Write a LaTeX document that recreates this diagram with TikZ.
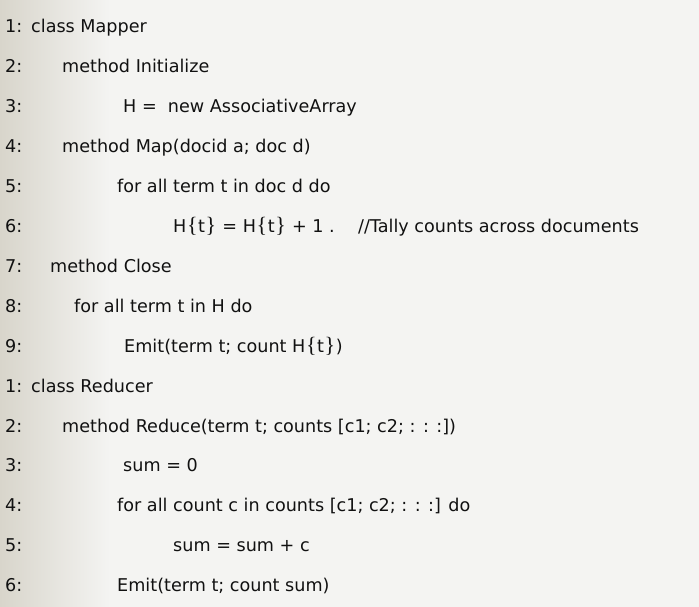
\documentclass[tikz,border=0pt]{standalone}
\usepackage{fontspec}
\setmainfont{DejaVu Sans}
\newfontfamily\bracefont{Liberation Serif}
\newcommand\mylb{{\kern0.6pt\bracefont\fontsize{22}{22}\selectfont\{\kern0.6pt}}
\newcommand\myrb{{\kern0.6pt\bracefont\fontsize{22}{22}\selectfont\}\kern0.6pt}}
\definecolor{bgleft}{HTML}{D8D5CB}
\definecolor{bgmain}{HTML}{F4F4F2}
\definecolor{codetext}{HTML}{111111}
\begin{document}
\begin{tikzpicture}[x=1pt,y=-1pt,
  codeline/.style={anchor=base west,inner sep=0pt,text=codetext,font=\fontsize{17.6}{20}\selectfont}]
\useasboundingbox (0,0) rectangle (699,607);
\fill[bgmain] (0,0) rectangle (699,607);
\shade[left color=bgleft,right color=bgmain] (0,0) rectangle (110,607);
% line numbers
\foreach \n/\lab in {1/1,2/2,3/3,4/4,5/5,6/6,7/7,8/8,9/9,10/1,11/2,12/3,13/4,14/5,15/6}{
  \node[codeline] (num\n) at (5,{33+39.9*(\n-1)}) {\lab:};
}
\node[codeline] (l1) at (31,33) {class Mapper};
\node[codeline] (l2) at (62,72.9) {method Initialize};
\node[codeline] (l3) at (123,112.8) {H = \ new AssociativeArray};
\node[codeline] (l4) at (62,152.7) {method Map(docid a; doc d)};
\node[codeline] (l5) at (117,192.6) {for all term t in doc d do};
\node[codeline] (l6) at (173,232.5) {H\mylb t\myrb{} = H\mylb t\myrb{} + 1 .};
\node[codeline] (l6c) at (358,232.5) {//Tally counts across documents};
\node[codeline] (l7) at (50,272.4) {method Close};
\node[codeline] (l8) at (74,312.3) {for all term t in H do};
\node[codeline] (l9) at (124,352.2) {Emit(term t; count H\mylb t\myrb)};
\node[codeline] (l10) at (31,392.1) {class Reducer};
\node[codeline] (l11) at (62,432) {method Reduce(term t; counts [c1; c2; : : :])};
\node[codeline] (l12) at (123,471.9) {sum = 0};
\node[codeline] (l13) at (117,511.8) {for all count c in counts [c1; c2; : : :] do};
\node[codeline] (l14) at (173,551.7) {sum = sum + c};
\node[codeline] (l15) at (117,591.6) {Emit(term t; count sum)};
\end{tikzpicture}
\end{document}
